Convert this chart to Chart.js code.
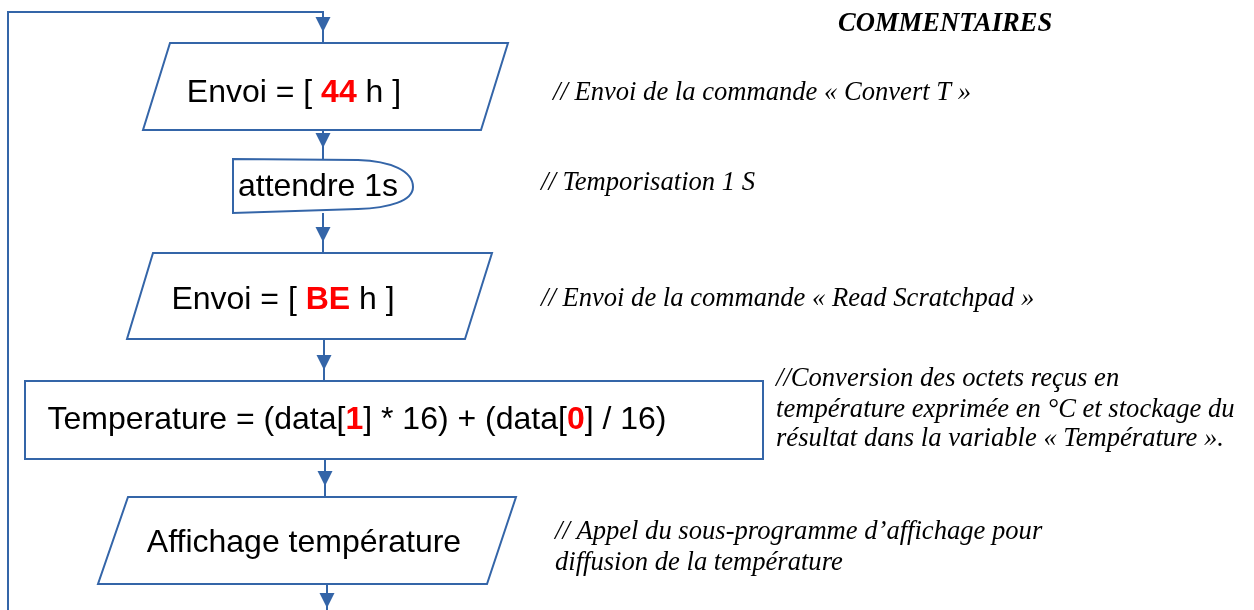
<!DOCTYPE html>
<html>
<head>
<meta charset="utf-8">
<script src="https://cdn.jsdelivr.net/npm/chart.js@4.4.1/dist/chart.umd.min.js"></script>
<style>
  html, body { margin: 0; padding: 0; background: #fff; }
  #wrap { width: 1254px; height: 610px; }
</style>
</head>
<body>
<div id="wrap"><canvas id="flow"></canvas></div>
<script>
// contenu des blocs (segments : [texte, en rouge gras ?])
const nodeKinds = ['para', 'delay', 'para', 'rect', 'para'];
const nodeText = [
  [['Envoi = [ ', 0], ['44', 1], [' h ]', 0]],
  [['attendre 1s', 0]],
  [['Envoi = [ ', 0], ['BE', 1], [' h ]', 0]],
  [['Temperature = (data[', 0], ['1', 1], ['] * 16) + (data[', 0], ['0', 1], ['] / 16)', 0]],
  [['Affichage température', 0]]
];
// contours des blocs, en unités d'axe
const nodeTop = [43, 159, 253, 381, 497];
const nodeBottom = [130, 213, 339, 459, 584];
const nodeLeftTop = [170, 233, 153, 25, 128];
const nodeLeftBottom = [143, 233, 127, 25, 98];
const nodeRightTop = [508, 413, 492, 763, 516];
const nodeRightBottom = [481, 413, 465, 763, 487];
const nodeTextX = [294, 318, 283, 357, 304];
const nodeTextY = [102, 196, 309, 429, 552];

// flèches verticales : x, départ, arrivée
const arrowX = [323, 323, 323, 324, 325, 327];
const arrowFrom = [12, 130, 213, 339, 459, 584];
const arrowTo = [43, 159, 253, 381, 497, 619];
// boucle de retour
const loopX = 8;
const loopTop = 12;

// commentaires
const commentTitle = 'COMMENTAIRES';
const commentLines = [
  '// Envoi de la commande « Convert T »',
  '// Temporisation 1 S',
  '// Envoi de la commande « Read Scratchpad »',
  '//Conversion des octets reçus en',
  'température exprimée en °C et stockage du',
  'résultat dans la variable « Température ».',
  '// Appel du sous-programme d’affichage pour',
  'diffusion de la température'
];
const commentX = [553, 541, 541, 776, 776, 776, 555, 555];
const commentY = [100, 190, 306, 386, 417, 446, 539, 570];

const LINE = '#3465A8';
const BOX_FONT = '32px "Liberation Sans", Arial, sans-serif';
const BOX_FONT_B = 'bold 32px "Liberation Sans", Arial, sans-serif';
const NOTE_FONT = 'italic 26.6px "Liberation Serif", "Times New Roman", serif';
const NOTE_FONT_B = 'italic bold 26.6px "Liberation Serif", "Times New Roman", serif';

const flowPlugin = {
  id: 'flow',
  afterDraw(chart) {
    const ctx = chart.ctx;
    const sx = v => chart.scales.x.getPixelForValue(v);
    const sy = v => chart.scales.y.getPixelForValue(v);
    ctx.save();
    ctx.strokeStyle = LINE;
    ctx.fillStyle = LINE;
    ctx.lineWidth = 2;
    ctx.lineJoin = 'miter';

    // boucle
    ctx.beginPath();
    ctx.moveTo(sx(arrowX[0]), sy(arrowTo[0]));
    ctx.lineTo(sx(arrowX[0]), sy(loopTop));
    ctx.lineTo(sx(loopX), sy(loopTop));
    ctx.lineTo(sx(loopX), sy(640));
    ctx.stroke();

    // flèches
    for (let i = 0; i < arrowX.length; i++) {
      const x = sx(arrowX[i]);
      ctx.beginPath();
      ctx.moveTo(x, sy(arrowFrom[i]));
      ctx.lineTo(x, sy(arrowTo[i]));
      ctx.stroke();
      const tip = sy(arrowTo[i]) - 11;
      ctx.beginPath();
      ctx.moveTo(x, tip);
      ctx.lineTo(x - 7.5, tip - 15);
      ctx.lineTo(x + 7.5, tip - 15);
      ctx.closePath();
      ctx.fill();
    }

    // blocs
    for (let i = 0; i < nodeKinds.length; i++) {
      const t = sy(nodeTop[i]), b = sy(nodeBottom[i]);
      ctx.beginPath();
      if (nodeKinds[i] === 'delay') {
        const l = sx(nodeLeftTop[i]), r = sx(nodeRightTop[i]);
        const m = (t + b) / 2 + 1;
        ctx.moveTo(l, t);
        ctx.lineTo(r - 55, t + 1);
        ctx.bezierCurveTo(r - 22, t + 2, r, m - 16, r, m);
        ctx.bezierCurveTo(r, m + 14, r - 24, b - 5, r - 55, b - 4);
        ctx.lineTo(l, b);
        ctx.closePath();
      } else {
        ctx.moveTo(sx(nodeLeftTop[i]), t);
        ctx.lineTo(sx(nodeRightTop[i]), t);
        ctx.lineTo(sx(nodeRightBottom[i]), b);
        ctx.lineTo(sx(nodeLeftBottom[i]), b);
        ctx.closePath();
      }
      ctx.fillStyle = '#fff';
      ctx.fill();
      ctx.stroke();

      // texte du bloc
      const segs = nodeText[i];
      let w = 0;
      segs.forEach(s => { ctx.font = s[1] ? BOX_FONT_B : BOX_FONT; w += ctx.measureText(s[0]).width; });
      let x = sx(nodeTextX[i]) - w / 2;
      const y = sy(nodeTextY[i]);
      ctx.textBaseline = 'alphabetic';
      ctx.textAlign = 'left';
      segs.forEach(s => {
        ctx.font = s[1] ? BOX_FONT_B : BOX_FONT;
        ctx.fillStyle = s[1] ? '#FF0000' : '#000';
        ctx.fillText(s[0], x, y);
        x += ctx.measureText(s[0]).width;
      });
    }

    // commentaires
    ctx.fillStyle = '#000';
    ctx.font = NOTE_FONT_B;
    ctx.fillText(commentTitle, sx(838), sy(31));
    ctx.font = NOTE_FONT;
    commentLines.forEach((c, i) => ctx.fillText(c, sx(commentX[i]), sy(commentY[i])));
    ctx.restore();
  }
};

new Chart(document.getElementById('flow'), {
  type: 'scatter',
  data: {
    datasets: [{
      label: 'blocs',
      data: nodeTextX.map((x, i) => ({ x: x, y: nodeTextY[i] })),
      pointRadius: 0
    }]
  },
  options: {
    responsive: true,
    maintainAspectRatio: false,
    animation: false,
    layout: { padding: 0 },
    plugins: { legend: { display: false }, tooltip: { enabled: false } },
    scales: {
      x: { type: 'linear', min: 0, max: 1254, display: false },
      y: { type: 'linear', min: 0, max: 610, reverse: true, display: false }
    }
  },
  plugins: [flowPlugin]
});
</script>
</body>
</html>
